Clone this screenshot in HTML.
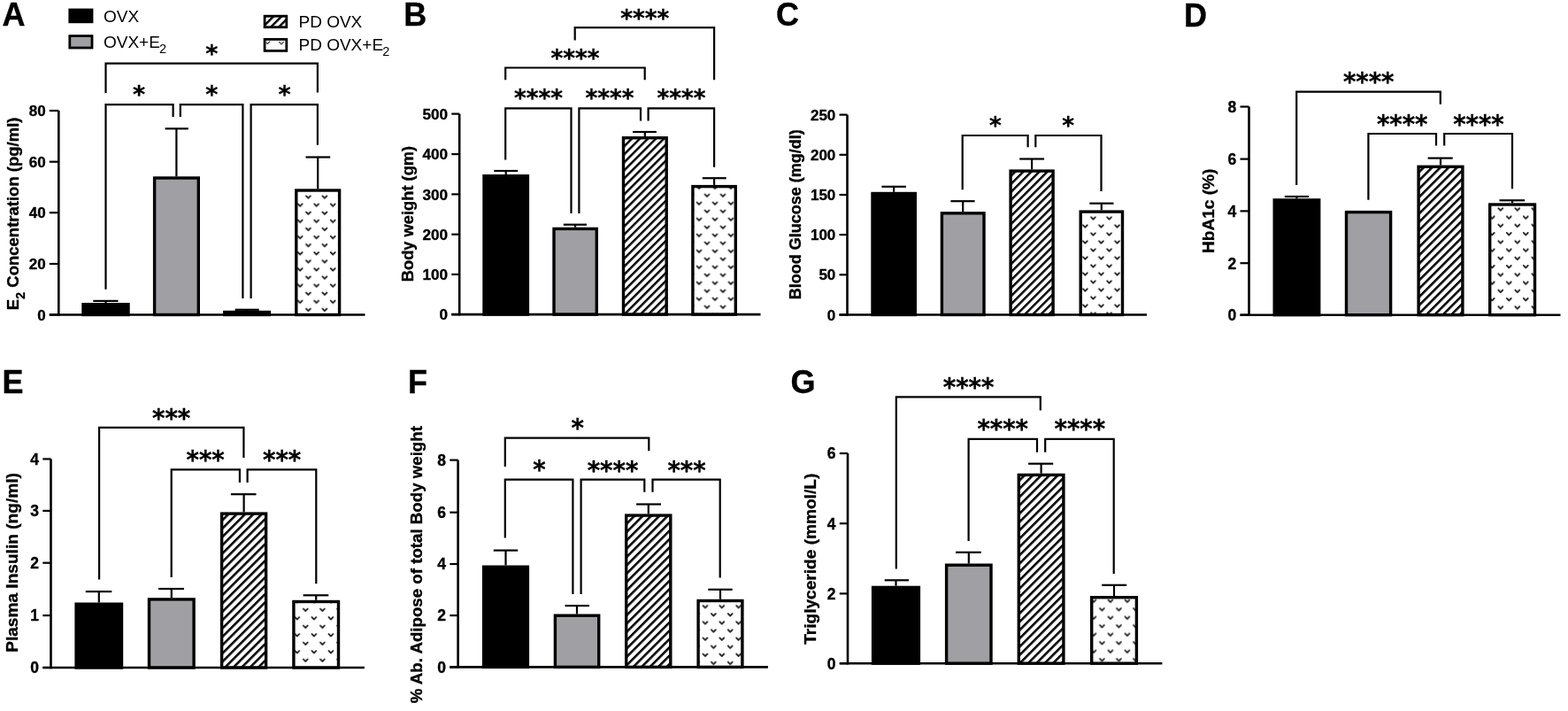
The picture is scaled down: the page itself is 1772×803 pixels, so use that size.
<!DOCTYPE html><html><head><meta charset="utf-8"><title>Figure</title><style>html,body{margin:0;padding:0;background:#fff;width:1772px;height:803px;overflow:hidden}svg{display:block}</style></head><body><svg width="1772" height="803" viewBox="0 0 1772 803">
<defs>
<pattern id="hatch" width="6.4" height="6.4" patternUnits="userSpaceOnUse" patternTransform="rotate(-45)"><rect width="6.4" height="6.4" fill="#fff"/><rect width="6.4" height="2.45" fill="#000"/></pattern>
<pattern id="hatchA" width="6.4" height="6.4" patternUnits="userSpaceOnUse" patternTransform="rotate(-45)"><rect width="6.4" height="6.4" fill="#fff"/><rect width="6.4" height="2.46" fill="#000"/></pattern>
<pattern id="dotsA" x="343.76" y="217.95" width="18.55" height="18.2" patternUnits="userSpaceOnUse"><rect width="18.55" height="18.2" fill="#fff"/><path d="M2.24,3.35 L4.64,5.85 L7.04,3.35 M11.51,12.45 L13.91,14.95 L16.31,12.45 M20.79,3.35 L23.19,5.85 L25.59,3.35 M-7.04,12.45 L-4.64,14.95 L-2.24,12.45 M2.24,21.55 L4.64,24.05 L7.04,21.55 M11.51,-5.75 L13.91,-3.25 L16.31,-5.75" stroke="#222" stroke-width="1.85" fill="none" stroke-linecap="round" stroke-linejoin="round"/></pattern>
<pattern id="hatchB" width="6.4" height="6.4" patternUnits="userSpaceOnUse" patternTransform="rotate(-45)"><rect width="6.4" height="6.4" fill="#fff"/><rect width="6.4" height="2.46" fill="#000"/></pattern>
<pattern id="dotsB" x="794.50" y="216.20" width="18.0" height="18.0" patternUnits="userSpaceOnUse"><rect width="18.0" height="18.0" fill="#fff"/><path d="M2.10,3.30 L4.50,5.80 L6.90,3.30 M11.10,12.30 L13.50,14.80 L15.90,12.30 M20.10,3.30 L22.50,5.80 L24.90,3.30 M-6.90,12.30 L-4.50,14.80 L-2.10,12.30 M2.10,21.30 L4.50,23.80 L6.90,21.30 M11.10,-5.70 L13.50,-3.20 L15.90,-5.70" stroke="#222" stroke-width="1.85" fill="none" stroke-linecap="round" stroke-linejoin="round"/></pattern>
<pattern id="hatchC" width="6.4" height="6.4" patternUnits="userSpaceOnUse" patternTransform="rotate(-45)"><rect width="6.4" height="6.4" fill="#fff"/><rect width="6.4" height="2.46" fill="#000"/></pattern>
<pattern id="dotsC" x="1230.88" y="241.90" width="18.1" height="18.0" patternUnits="userSpaceOnUse"><rect width="18.1" height="18.0" fill="#fff"/><path d="M2.13,3.30 L4.53,5.80 L6.93,3.30 M11.18,12.30 L13.58,14.80 L15.98,12.30 M20.23,3.30 L22.62,5.80 L25.02,3.30 M-6.93,12.30 L-4.53,14.80 L-2.13,12.30 M2.13,21.30 L4.53,23.80 L6.93,21.30 M11.18,-5.70 L13.58,-3.20 L15.98,-5.70" stroke="#222" stroke-width="1.85" fill="none" stroke-linecap="round" stroke-linejoin="round"/></pattern>
<pattern id="hatchD" width="6.65" height="6.65" patternUnits="userSpaceOnUse" patternTransform="rotate(-45)"><rect width="6.65" height="6.65" fill="#fff"/><rect width="6.65" height="2.56" fill="#000"/></pattern>
<pattern id="dotsD" x="1691.05" y="231.78" width="19.0" height="18.5" patternUnits="userSpaceOnUse"><rect width="19.0" height="18.5" fill="#fff"/><path d="M2.35,3.42 L4.75,5.92 L7.15,3.42 M11.85,12.68 L14.25,15.18 L16.65,12.68 M21.35,3.42 L23.75,5.92 L26.15,3.42 M-7.15,12.68 L-4.75,15.18 L-2.35,12.68 M2.35,21.93 L4.75,24.43 L7.15,21.93 M11.85,-5.83 L14.25,-3.33 L16.65,-5.83" stroke="#222" stroke-width="1.85" fill="none" stroke-linecap="round" stroke-linejoin="round"/></pattern>
<pattern id="hatchE" width="6.65" height="6.65" patternUnits="userSpaceOnUse" patternTransform="rotate(-45)"><rect width="6.65" height="6.65" fill="#fff"/><rect width="6.65" height="2.56" fill="#000"/></pattern>
<pattern id="dotsE" x="340.53" y="683.95" width="19.1" height="19.0" patternUnits="userSpaceOnUse"><rect width="19.1" height="19.0" fill="#fff"/><path d="M2.38,3.55 L4.78,6.05 L7.18,3.55 M11.93,13.05 L14.33,15.55 L16.73,13.05 M21.48,3.55 L23.88,6.05 L26.27,3.55 M-7.18,13.05 L-4.78,15.55 L-2.38,13.05 M2.38,22.55 L4.78,25.05 L7.18,22.55 M11.93,-5.95 L14.33,-3.45 L16.73,-5.95" stroke="#222" stroke-width="1.85" fill="none" stroke-linecap="round" stroke-linejoin="round"/></pattern>
<pattern id="hatchF" width="6.65" height="6.65" patternUnits="userSpaceOnUse" patternTransform="rotate(-45)"><rect width="6.65" height="6.65" fill="#fff"/><rect width="6.65" height="2.56" fill="#000"/></pattern>
<pattern id="dotsF" x="792.30" y="680.65" width="18.8" height="18.2" patternUnits="userSpaceOnUse"><rect width="18.8" height="18.2" fill="#fff"/><path d="M2.30,3.35 L4.70,5.85 L7.10,3.35 M11.70,12.45 L14.10,14.95 L16.50,12.45 M21.10,3.35 L23.50,5.85 L25.90,3.35 M-7.10,12.45 L-4.70,14.95 L-2.30,12.45 M2.30,21.55 L4.70,24.05 L7.10,21.55 M11.70,-5.75 L14.10,-3.25 L16.50,-5.75" stroke="#222" stroke-width="1.85" fill="none" stroke-linecap="round" stroke-linejoin="round"/></pattern>
<pattern id="hatchG" width="6.65" height="6.65" patternUnits="userSpaceOnUse" patternTransform="rotate(-45)"><rect width="6.65" height="6.65" fill="#fff"/><rect width="6.65" height="2.56" fill="#000"/></pattern>
<pattern id="dotsG" x="1240.65" y="683.45" width="19.0" height="19.0" patternUnits="userSpaceOnUse"><rect width="19.0" height="19.0" fill="#fff"/><path d="M2.35,3.55 L4.75,6.05 L7.15,3.55 M11.85,13.05 L14.25,15.55 L16.65,13.05 M21.35,3.55 L23.75,6.05 L26.15,3.55 M-7.15,13.05 L-4.75,15.55 L-2.35,13.05 M2.35,22.55 L4.75,25.05 L7.15,22.55 M11.85,-5.95 L14.25,-3.45 L16.65,-5.95" stroke="#222" stroke-width="1.85" fill="none" stroke-linecap="round" stroke-linejoin="round"/></pattern>
</defs>
<rect width="1772" height="803" fill="#fff"/>
<g id="pA" stroke="#000" stroke-linecap="butt">
<rect x="94.0" y="343.7" width="51.0" height="11.8" fill="#000" stroke-width="3.4"/>
<line x1="119.5" y1="342.0" x2="119.5" y2="339.9" stroke-width="2.2"/>
<line x1="105.3" y1="339.9" x2="133.5" y2="339.9" stroke-width="2.2"/>
<rect x="174.6" y="201.0" width="49.7" height="154.5" fill="#a09fa4" stroke-width="3.4"/>
<line x1="199.4" y1="199.3" x2="199.4" y2="145.3" stroke-width="2.2"/>
<line x1="186.6" y1="145.3" x2="212.8" y2="145.3" stroke-width="2.2"/>
<rect x="253.8" y="352.5" width="50.6" height="3.0" fill="url(#hatchA)" stroke-width="3.4"/>
<line x1="279.1" y1="350.8" x2="279.1" y2="349.8" stroke-width="2.2"/>
<line x1="265.6" y1="349.8" x2="292.7" y2="349.8" stroke-width="2.2"/>
<rect x="334.8" y="215.0" width="48.8" height="140.5" fill="url(#dotsA)" stroke-width="3.4"/>
<line x1="359.2" y1="213.3" x2="359.2" y2="177.5" stroke-width="2.2"/>
<line x1="345.5" y1="177.5" x2="373.2" y2="177.5" stroke-width="2.2"/>
<line x1="66.3" y1="125.0" x2="66.3" y2="356.8" stroke-width="2.6"/>
<line x1="55.8" y1="355.5" x2="412.5" y2="355.5" stroke-width="2.6"/>
<line x1="55.8" y1="125.0" x2="66.3" y2="125.0" stroke-width="2.2"/>
<line x1="55.8" y1="182.7" x2="66.3" y2="182.7" stroke-width="2.2"/>
<line x1="55.8" y1="240.2" x2="66.3" y2="240.2" stroke-width="2.2"/>
<line x1="55.8" y1="298.0" x2="66.3" y2="298.0" stroke-width="2.2"/>
<line x1="55.8" y1="355.5" x2="66.3" y2="355.5" stroke-width="2.2"/>
<path d="M119.5,105.0 V71.7 H358.9 V104.6" stroke-width="2.2" fill="none"/>
<path d="M119.5,326.8 V118.2 H195.6 V132.0" stroke-width="2.2" fill="none"/>
<path d="M203.8,132.0 V118.2 H274.4 V336.9" stroke-width="2.2" fill="none"/>
<path d="M283.6,336.9 V118.2 H358.9 V163.7" stroke-width="2.2" fill="none"/>
</g>
<g font-family="Liberation Sans, Arial, sans-serif" font-weight="bold" font-size="17.0" text-anchor="end" stroke="#000" stroke-width="0.35">
<text x="51.6" y="131.1">80</text>
<text x="51.6" y="188.8">60</text>
<text x="51.6" y="246.3">40</text>
<text x="51.6" y="304.1">20</text>
<text x="51.6" y="361.6">0</text>
</g>
<g font-family="DejaVu Sans, sans-serif" font-weight="bold" font-size="27.0" text-anchor="middle" stroke="#000" stroke-width="0.35">
<text x="239.3" y="69.6">*</text>
<text x="157.0" y="115.5">*</text>
<text x="239.3" y="115.5">*</text>
<text x="321.5" y="115.5">*</text>
</g>
<g id="pB" stroke="#000" stroke-linecap="butt">
<rect x="547.0" y="198.7" width="49.4" height="156.4" fill="#000" stroke-width="3.4"/>
<line x1="571.7" y1="197.0" x2="571.7" y2="193.0" stroke-width="2.2"/>
<line x1="558.3" y1="193.0" x2="585.2" y2="193.0" stroke-width="2.2"/>
<rect x="626.0" y="258.4" width="48.3" height="96.7" fill="#a09fa4" stroke-width="3.4"/>
<line x1="650.1" y1="256.7" x2="650.1" y2="253.7" stroke-width="2.2"/>
<line x1="636.8" y1="253.7" x2="663.0" y2="253.7" stroke-width="2.2"/>
<rect x="704.5" y="155.7" width="48.7" height="199.4" fill="url(#hatchB)" stroke-width="3.4"/>
<line x1="728.8" y1="154.0" x2="728.8" y2="149.0" stroke-width="2.2"/>
<line x1="715.0" y1="149.0" x2="741.9" y2="149.0" stroke-width="2.2"/>
<rect x="782.9" y="210.6" width="48.4" height="144.5" fill="url(#dotsB)" stroke-width="3.4"/>
<line x1="807.1" y1="208.9" x2="807.1" y2="201.2" stroke-width="2.2"/>
<line x1="793.8" y1="201.2" x2="820.7" y2="201.2" stroke-width="2.2"/>
<line x1="519.2" y1="128.6" x2="519.2" y2="356.4" stroke-width="2.6"/>
<line x1="510.3" y1="355.1" x2="859.5" y2="355.1" stroke-width="2.6"/>
<line x1="510.3" y1="128.6" x2="519.2" y2="128.6" stroke-width="2.2"/>
<line x1="510.3" y1="174.1" x2="519.2" y2="174.1" stroke-width="2.2"/>
<line x1="510.3" y1="219.4" x2="519.2" y2="219.4" stroke-width="2.2"/>
<line x1="510.3" y1="264.7" x2="519.2" y2="264.7" stroke-width="2.2"/>
<line x1="510.3" y1="309.9" x2="519.2" y2="309.9" stroke-width="2.2"/>
<line x1="510.3" y1="355.1" x2="519.2" y2="355.1" stroke-width="2.2"/>
<path d="M649.7,45.6 V31.1 H807.1 V90.2" stroke-width="2.2" fill="none"/>
<path d="M571.2,90.2 V76.5 H728.7 V90.2" stroke-width="2.2" fill="none"/>
<path d="M571.2,180.6 V122.4 H645.5 V241.0" stroke-width="2.2" fill="none"/>
<path d="M654.4,241.0 V122.4 H724.0 V136.5" stroke-width="2.2" fill="none"/>
<path d="M732.6,136.5 V122.4 H807.1 V188.7" stroke-width="2.2" fill="none"/>
</g>
<g font-family="Liberation Sans, Arial, sans-serif" font-weight="bold" font-size="17.2" text-anchor="end" stroke="#000" stroke-width="0.35">
<text x="506.1" y="134.8">500</text>
<text x="506.1" y="180.3">400</text>
<text x="506.1" y="225.6">300</text>
<text x="506.1" y="270.9">200</text>
<text x="506.1" y="316.1">100</text>
<text x="506.1" y="361.3">0</text>
</g>
<g font-family="DejaVu Sans, sans-serif" font-weight="bold" font-size="26.3" text-anchor="middle" stroke="#000" stroke-width="0.35">
<text x="728.8" y="30.3">****</text>
<text x="650.0" y="74.9">****</text>
<text x="608.4" y="120.3">****</text>
<text x="689.1" y="120.3">****</text>
<text x="769.9" y="120.3">****</text>
</g>
<g id="pC" stroke="#000" stroke-linecap="butt">
<rect x="986.0" y="218.5" width="48.3" height="137.0" fill="#000" stroke-width="3.4"/>
<line x1="1010.1" y1="216.8" x2="1010.1" y2="210.8" stroke-width="2.2"/>
<line x1="996.4" y1="210.8" x2="1023.9" y2="210.8" stroke-width="2.2"/>
<rect x="1064.4" y="240.8" width="47.6" height="114.7" fill="#a09fa4" stroke-width="3.4"/>
<line x1="1088.2" y1="239.1" x2="1088.2" y2="227.2" stroke-width="2.2"/>
<line x1="1074.4" y1="227.2" x2="1101.6" y2="227.2" stroke-width="2.2"/>
<rect x="1142.1" y="193.1" width="48.0" height="162.4" fill="url(#hatchC)" stroke-width="3.4"/>
<line x1="1166.1" y1="191.4" x2="1166.1" y2="179.5" stroke-width="2.2"/>
<line x1="1152.2" y1="179.5" x2="1180.0" y2="179.5" stroke-width="2.2"/>
<rect x="1221.2" y="239.1" width="47.3" height="116.4" fill="url(#dotsC)" stroke-width="3.4"/>
<line x1="1244.8" y1="237.4" x2="1244.8" y2="229.7" stroke-width="2.2"/>
<line x1="1231.3" y1="229.7" x2="1258.5" y2="229.7" stroke-width="2.2"/>
<line x1="957.5" y1="129.6" x2="957.5" y2="356.8" stroke-width="2.6"/>
<line x1="948.5" y1="355.5" x2="1296.0" y2="355.5" stroke-width="2.6"/>
<line x1="948.5" y1="129.6" x2="957.5" y2="129.6" stroke-width="2.2"/>
<line x1="948.5" y1="174.8" x2="957.5" y2="174.8" stroke-width="2.2"/>
<line x1="948.5" y1="220.0" x2="957.5" y2="220.0" stroke-width="2.2"/>
<line x1="948.5" y1="265.1" x2="957.5" y2="265.1" stroke-width="2.2"/>
<line x1="948.5" y1="310.3" x2="957.5" y2="310.3" stroke-width="2.2"/>
<line x1="948.5" y1="355.5" x2="957.5" y2="355.5" stroke-width="2.2"/>
<path d="M1087.7,214.3 V153.0 H1161.6 V166.2" stroke-width="2.2" fill="none"/>
<path d="M1170.3,166.2 V153.0 H1244.5 V216.0" stroke-width="2.2" fill="none"/>
</g>
<g font-family="Liberation Sans, Arial, sans-serif" font-weight="bold" font-size="17.0" text-anchor="end" stroke="#000" stroke-width="0.35">
<text x="944.3" y="135.7">250</text>
<text x="944.3" y="180.9">200</text>
<text x="944.3" y="226.1">150</text>
<text x="944.3" y="271.2">100</text>
<text x="944.3" y="316.4">50</text>
<text x="944.3" y="361.6">0</text>
</g>
<g font-family="DejaVu Sans, sans-serif" font-weight="bold" font-size="26.3" text-anchor="middle" stroke="#000" stroke-width="0.35">
<text x="1125.0" y="150.7">*</text>
<text x="1207.2" y="150.7">*</text>
</g>
<g id="pD" stroke="#000" stroke-linecap="butt">
<rect x="1440.2" y="225.9" width="50.5" height="129.8" fill="#000" stroke-width="3.4"/>
<line x1="1465.4" y1="224.2" x2="1465.4" y2="222.0" stroke-width="2.2"/>
<line x1="1451.8" y1="222.0" x2="1479.2" y2="222.0" stroke-width="2.2"/>
<rect x="1521.5" y="239.6" width="50.1" height="116.1" fill="#a09fa4" stroke-width="3.4"/>
<rect x="1603.1" y="188.3" width="49.8" height="167.4" fill="url(#hatchD)" stroke-width="3.4"/>
<line x1="1628.0" y1="186.6" x2="1628.0" y2="178.6" stroke-width="2.2"/>
<line x1="1613.6" y1="178.6" x2="1641.7" y2="178.6" stroke-width="2.2"/>
<rect x="1683.7" y="231.0" width="50.8" height="124.7" fill="url(#dotsD)" stroke-width="3.4"/>
<line x1="1709.1" y1="229.3" x2="1709.1" y2="226.3" stroke-width="2.2"/>
<line x1="1694.5" y1="226.3" x2="1723.2" y2="226.3" stroke-width="2.2"/>
<line x1="1411.5" y1="120.5" x2="1411.5" y2="357.0" stroke-width="2.6"/>
<line x1="1401.5" y1="355.7" x2="1763.5" y2="355.7" stroke-width="2.6"/>
<line x1="1401.5" y1="120.5" x2="1411.5" y2="120.5" stroke-width="2.2"/>
<line x1="1401.5" y1="179.6" x2="1411.5" y2="179.6" stroke-width="2.2"/>
<line x1="1401.5" y1="238.4" x2="1411.5" y2="238.4" stroke-width="2.2"/>
<line x1="1401.5" y1="297.2" x2="1411.5" y2="297.2" stroke-width="2.2"/>
<line x1="1401.5" y1="355.7" x2="1411.5" y2="355.7" stroke-width="2.2"/>
<path d="M1465.2,209.0 V103.6 H1627.8 V117.8" stroke-width="2.2" fill="none"/>
<path d="M1546.4,225.7 V151.0 H1623.0 V164.6" stroke-width="2.2" fill="none"/>
<path d="M1632.2,164.6 V151.0 H1709.0 V213.2" stroke-width="2.2" fill="none"/>
</g>
<g font-family="Liberation Sans, Arial, sans-serif" font-weight="bold" font-size="17.5" text-anchor="end" stroke="#000" stroke-width="0.35">
<text x="1397.3" y="126.8">8</text>
<text x="1397.3" y="185.9">6</text>
<text x="1397.3" y="244.7">4</text>
<text x="1397.3" y="303.5">2</text>
<text x="1397.3" y="362.0">0</text>
</g>
<g font-family="DejaVu Sans, sans-serif" font-weight="bold" font-size="27.5" text-anchor="middle" stroke="#000" stroke-width="0.35">
<text x="1546.7" y="102.4">****</text>
<text x="1584.7" y="150.1">****</text>
<text x="1670.9" y="150.1">****</text>
</g>
<g id="pE" stroke="#000" stroke-linecap="butt">
<rect x="86.1" y="682.2" width="51.4" height="71.8" fill="#000" stroke-width="3.4"/>
<line x1="111.8" y1="680.5" x2="111.8" y2="668.1" stroke-width="2.2"/>
<line x1="96.8" y1="668.1" x2="126.3" y2="668.1" stroke-width="2.2"/>
<rect x="168.5" y="676.9" width="50.6" height="77.1" fill="#a09fa4" stroke-width="3.4"/>
<line x1="193.8" y1="675.2" x2="193.8" y2="665.0" stroke-width="2.2"/>
<line x1="179.1" y1="665.0" x2="207.9" y2="665.0" stroke-width="2.2"/>
<rect x="250.6" y="580.1" width="50.0" height="173.9" fill="url(#hatchE)" stroke-width="3.4"/>
<line x1="275.6" y1="578.4" x2="275.6" y2="558.2" stroke-width="2.2"/>
<line x1="260.9" y1="558.2" x2="289.5" y2="558.2" stroke-width="2.2"/>
<rect x="331.9" y="679.5" width="50.6" height="74.5" fill="url(#dotsE)" stroke-width="3.4"/>
<line x1="357.2" y1="677.8" x2="357.2" y2="672.3" stroke-width="2.2"/>
<line x1="342.6" y1="672.3" x2="371.3" y2="672.3" stroke-width="2.2"/>
<line x1="57.5" y1="518.4" x2="57.5" y2="755.3" stroke-width="2.6"/>
<line x1="48.3" y1="754.0" x2="411.9" y2="754.0" stroke-width="2.6"/>
<line x1="48.3" y1="518.4" x2="57.5" y2="518.4" stroke-width="2.2"/>
<line x1="48.3" y1="576.9" x2="57.5" y2="576.9" stroke-width="2.2"/>
<line x1="48.3" y1="635.7" x2="57.5" y2="635.7" stroke-width="2.2"/>
<line x1="48.3" y1="695.1" x2="57.5" y2="695.1" stroke-width="2.2"/>
<line x1="48.3" y1="754.0" x2="57.5" y2="754.0" stroke-width="2.2"/>
<path d="M112.1,654.5 V482.9 H275.4 V517.1" stroke-width="2.2" fill="none"/>
<path d="M193.7,651.9 V530.3 H270.9 V545.0" stroke-width="2.2" fill="none"/>
<path d="M279.6,545.0 V530.3 H357.3 V659.2" stroke-width="2.2" fill="none"/>
</g>
<g font-family="Liberation Sans, Arial, sans-serif" font-weight="bold" font-size="17.5" text-anchor="end" stroke="#000" stroke-width="0.35">
<text x="44.1" y="524.7">4</text>
<text x="44.1" y="583.2">3</text>
<text x="44.1" y="642.0">2</text>
<text x="44.1" y="701.4">1</text>
<text x="44.1" y="760.3">0</text>
</g>
<g font-family="DejaVu Sans, sans-serif" font-weight="bold" font-size="27.5" text-anchor="middle" stroke="#000" stroke-width="0.35">
<text x="193.7" y="481.5">***</text>
<text x="232.2" y="528.8">***</text>
<text x="318.6" y="528.8">***</text>
</g>
<g id="pF" stroke="#000" stroke-linecap="butt">
<rect x="546.6" y="640.2" width="49.8" height="113.2" fill="#000" stroke-width="3.4"/>
<line x1="571.5" y1="638.5" x2="571.5" y2="621.6" stroke-width="2.2"/>
<line x1="557.8" y1="621.6" x2="585.2" y2="621.6" stroke-width="2.2"/>
<rect x="627.4" y="695.2" width="49.3" height="58.2" fill="#a09fa4" stroke-width="3.4"/>
<line x1="652.0" y1="693.5" x2="652.0" y2="684.1" stroke-width="2.2"/>
<line x1="638.6" y1="684.1" x2="666.0" y2="684.1" stroke-width="2.2"/>
<rect x="707.7" y="582.1" width="50.1" height="171.3" fill="url(#hatchF)" stroke-width="3.4"/>
<line x1="732.8" y1="580.4" x2="732.8" y2="569.5" stroke-width="2.2"/>
<line x1="719.1" y1="569.5" x2="747.0" y2="569.5" stroke-width="2.2"/>
<rect x="789.1" y="678.5" width="49.8" height="74.9" fill="url(#dotsF)" stroke-width="3.4"/>
<line x1="814.0" y1="676.8" x2="814.0" y2="665.8" stroke-width="2.2"/>
<line x1="800.3" y1="665.8" x2="827.7" y2="665.8" stroke-width="2.2"/>
<line x1="517.6" y1="519.6" x2="517.6" y2="754.7" stroke-width="2.6"/>
<line x1="508.3" y1="753.4" x2="867.9" y2="753.4" stroke-width="2.6"/>
<line x1="508.3" y1="519.6" x2="517.6" y2="519.6" stroke-width="2.2"/>
<line x1="508.3" y1="578.7" x2="517.6" y2="578.7" stroke-width="2.2"/>
<line x1="508.3" y1="637.0" x2="517.6" y2="637.0" stroke-width="2.2"/>
<line x1="508.3" y1="695.1" x2="517.6" y2="695.1" stroke-width="2.2"/>
<line x1="508.3" y1="753.4" x2="517.6" y2="753.4" stroke-width="2.2"/>
<path d="M570.8,527.1 V494.6 H733.3 V509.2" stroke-width="2.2" fill="none"/>
<path d="M570.8,607.4 V541.6 H647.4 V671.0" stroke-width="2.2" fill="none"/>
<path d="M656.6,671.0 V541.6 H728.3 V555.8" stroke-width="2.2" fill="none"/>
<path d="M737.5,555.8 V541.6 H813.7 V652.6" stroke-width="2.2" fill="none"/>
</g>
<g font-family="Liberation Sans, Arial, sans-serif" font-weight="bold" font-size="17.5" text-anchor="end" stroke="#000" stroke-width="0.35">
<text x="504.1" y="525.9">8</text>
<text x="504.1" y="585.0">6</text>
<text x="504.1" y="643.3">4</text>
<text x="504.1" y="701.4">2</text>
<text x="504.1" y="759.7">0</text>
</g>
<g font-family="DejaVu Sans, sans-serif" font-weight="bold" font-size="27.5" text-anchor="middle" stroke="#000" stroke-width="0.35">
<text x="652.6" y="493.4">*</text>
<text x="609.4" y="540.4">*</text>
<text x="692.5" y="540.6">****</text>
<text x="776.0" y="540.6">***</text>
</g>
<g id="pG" stroke="#000" stroke-linecap="butt">
<rect x="986.6" y="663.4" width="51.8" height="85.8" fill="#000" stroke-width="3.4"/>
<line x1="1012.5" y1="661.7" x2="1012.5" y2="655.3" stroke-width="2.2"/>
<line x1="999.7" y1="655.3" x2="1027.1" y2="655.3" stroke-width="2.2"/>
<rect x="1069.6" y="638.2" width="50.4" height="111.0" fill="#a09fa4" stroke-width="3.4"/>
<line x1="1094.8" y1="636.5" x2="1094.8" y2="623.8" stroke-width="2.2"/>
<line x1="1080.0" y1="623.8" x2="1108.8" y2="623.8" stroke-width="2.2"/>
<rect x="1151.3" y="536.4" width="50.6" height="212.8" fill="url(#hatchG)" stroke-width="3.4"/>
<line x1="1176.6" y1="534.7" x2="1176.6" y2="523.7" stroke-width="2.2"/>
<line x1="1162.1" y1="523.7" x2="1190.2" y2="523.7" stroke-width="2.2"/>
<rect x="1233.7" y="674.7" width="50.7" height="74.5" fill="url(#dotsG)" stroke-width="3.4"/>
<line x1="1259.0" y1="673.0" x2="1259.0" y2="660.8" stroke-width="2.2"/>
<line x1="1245.2" y1="660.8" x2="1273.2" y2="660.8" stroke-width="2.2"/>
<line x1="958.0" y1="512.0" x2="958.0" y2="750.5" stroke-width="2.6"/>
<line x1="948.8" y1="749.2" x2="1313.4" y2="749.2" stroke-width="2.6"/>
<line x1="948.8" y1="512.0" x2="958.0" y2="512.0" stroke-width="2.2"/>
<line x1="948.8" y1="591.2" x2="958.0" y2="591.2" stroke-width="2.2"/>
<line x1="948.8" y1="670.4" x2="958.0" y2="670.4" stroke-width="2.2"/>
<line x1="948.8" y1="749.2" x2="958.0" y2="749.2" stroke-width="2.2"/>
<path d="M1012.8,642.5 V448.3 H1175.8 V463.5" stroke-width="2.2" fill="none"/>
<path d="M1094.6,611.0 V495.8 H1172.0 V510.8" stroke-width="2.2" fill="none"/>
<path d="M1181.2,510.8 V495.8 H1258.7 V648.0" stroke-width="2.2" fill="none"/>
</g>
<g font-family="Liberation Sans, Arial, sans-serif" font-weight="bold" font-size="17.5" text-anchor="end" stroke="#000" stroke-width="0.35">
<text x="944.6" y="518.3">6</text>
<text x="944.6" y="597.5">4</text>
<text x="944.6" y="676.7">2</text>
<text x="944.6" y="755.5">0</text>
</g>
<g font-family="DejaVu Sans, sans-serif" font-weight="bold" font-size="27.5" text-anchor="middle" stroke="#000" stroke-width="0.35">
<text x="1094.6" y="446.5">****</text>
<text x="1133.2" y="494.2">****</text>
<text x="1220.3" y="494.2">****</text>
</g>
<g font-family="Liberation Sans, Arial, sans-serif" font-weight="bold" font-size="36" stroke="#000" stroke-width="0.35">
<text x="2.6" y="29.1">A</text>
<text x="456.2" y="29.3">B</text>
<text x="877.0" y="29.3">C</text>
<text x="1338.0" y="29.6">D</text>
<text x="2.5" y="444.4">E</text>
<text x="461.0" y="443.6">F</text>
<text x="893.5" y="444.0">G</text>
</g>
<g font-family="Liberation Sans, Arial, sans-serif" font-weight="bold" text-anchor="middle" stroke="#000" stroke-width="0.35">
<text transform="translate(20.9,241.4) rotate(-90)" font-size="18.5"><tspan>E</tspan><tspan dx="0.3" dy="6.8" font-size="14">2</tspan><tspan dy="-6.8"> Concentration (pg/ml)</tspan></text>
<text transform="translate(466.8,241.5) rotate(-90)" font-size="18.3">Body weight (gm)</text>
<text transform="translate(905.0,242.2) rotate(-90)" font-size="18.0">Blood Glucose (mg/dl)</text>
<text transform="translate(1372.3,238.3) rotate(-90)" font-size="19.1">HbA1c (%)</text>
<text transform="translate(20.1,635.5) rotate(-90)" font-size="19.1">Plasma Insulin (ng/ml)</text>
<text transform="translate(476.8,637.7) rotate(-90)" font-size="18.7">% Ab. Adipose of total Body weight</text>
<text transform="translate(922.3,631.3) rotate(-90)" font-size="19.1">Triglyceride (mmol/L)</text>
</g>
<g stroke="#000" stroke-width="2.8">
<rect x="78.8" y="11.0" width="25.2" height="13.8" fill="#000"/>
<rect x="78.8" y="40.6" width="25.2" height="13.4" fill="#a09fa4"/>
<rect x="299.1" y="18.2" width="24.7" height="12.5" fill="url(#hatch)"/>
<rect x="299.1" y="44.4" width="24.7" height="13.0" fill="#fff"/>
</g>
<path d="M300.00,47.00 L302.40,49.50 L304.80,47.00 M315.60,47.60 L318.00,50.10 L320.40,47.60" stroke="#555" stroke-width="1.4" fill="none" stroke-linecap="round" stroke-linejoin="round"/>
<g font-family="Liberation Sans, Arial, sans-serif" font-size="19">
<text x="117" y="25.3">OVX</text>
<text x="117" y="54.0">OVX+E<tspan dx="-0.8" dy="6" font-size="14.5">2</tspan></text>
<text x="337.5" y="31.2">PD OVX</text>
<text x="337.5" y="57.0">PD OVX+E<tspan dx="-0.8" dy="6" font-size="14.5">2</tspan></text>
</g>
</svg></body></html>
